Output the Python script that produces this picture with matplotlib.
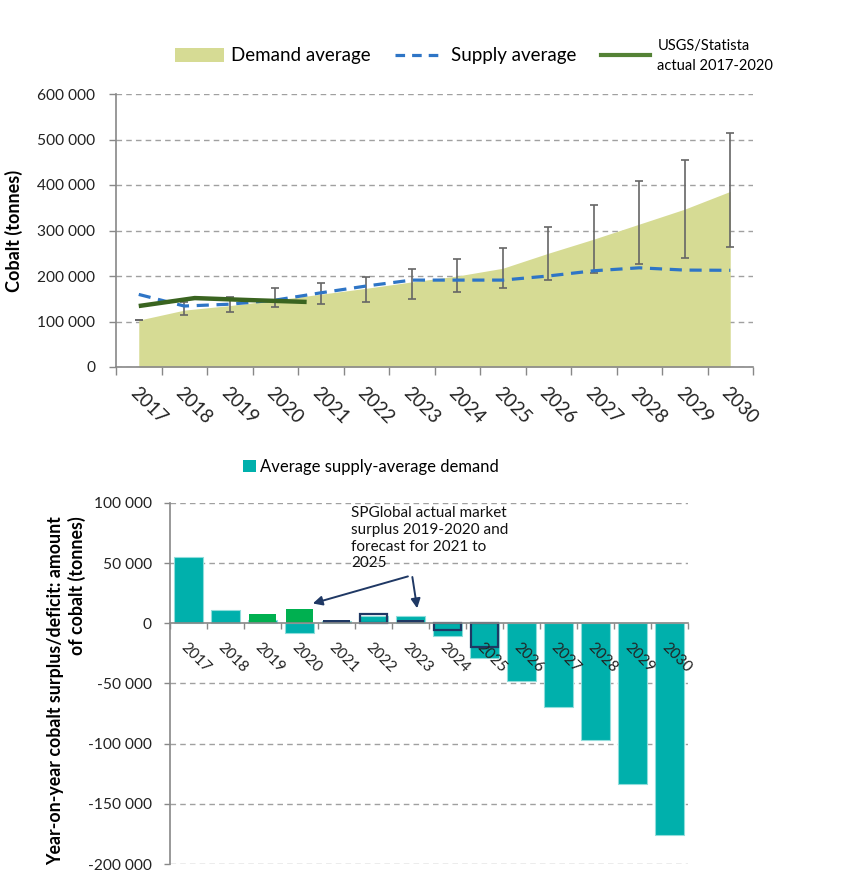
import numpy as np
import matplotlib
matplotlib.use("Agg")
import matplotlib.pyplot as plt
from matplotlib.patches import Patch
from matplotlib.lines import Line2D

plt.rcParams['font.family'] = ['Lato', 'DejaVu Sans']

# ---------------- data ----------------
years = ['2017', '2018', '2019', '2020', '2021', '2022', '2023',
         '2024', '2025', '2026', '2027', '2028', '2029', '2030']
demand_avg = [103000, 125000, 135000, 147000, 160000, 173000, 187000,
              200000, 217000, 250000, 281000, 314000, 347000, 386000]
demand_low = [103000, 114000, 121000, 132000, 138000, 143000, 150000,
              164000, 174000, 191000, 206000, 226000, 240000, 264000]
demand_high = [103000, 143000, 154000, 174000, 185000, 198000, 215000,
               237000, 262000, 308000, 357000, 408000, 455000, 515000]
supply_avg = [159500, 134000, 138000, 147000, 163000, 178000, 191000,
              191000, 191000, 200000, 211500, 218000, 213000, 212500]
usgs_years = ['2017', '2018', '2019', '2020']
usgs_actual = [134000, 151500, 147000, 143000]

balance_avg = [55500, 11100, 3000, -7800, 2000, 6500, 6300,
               -10600, -28700, -48300, -69300, -97300, -133300, -175500]
sp_years = ['2019', '2020', '2021', '2022', '2023', '2024', '2025']
sp_values = [8000, 11700, 3000, 7750, 2800, -5600, -19500]

top_yticks = [0, 100000, 200000, 300000, 400000, 500000, 600000]
bot_yticks = [-200000, -150000, -100000, -50000, 0, 50000, 100000]

# ---------------- styles ----------------
C_AREA = '#D6DB94'
C_SUPPLY = '#2E75C6'
C_USGS = '#3A6420'
C_USGS_LEG = '#548235'
C_ERR = '#666666'
C_GRID = '#A0A0A0'
C_SPINE = '#888888'
C_TEAL = '#00B0AC'
C_GREEN = '#00B050'
C_NAVY = '#1F3864'
sp_filled = {'2019': C_GREEN, '2020': C_GREEN, '2021': C_NAVY, '2023': C_NAVY}


def fmt(v):
    s = f"{abs(int(v)):,}".replace(',', ' ')
    return ('-' if v < 0 else '') + s


fig = plt.figure(figsize=(8.5, 8.83), dpi=100)

# ---------------- top chart ----------------
ax = fig.add_axes([116 / 850, 1 - 367 / 883, (753 - 116) / 850, (367 - 94) / 883])
x = np.arange(len(years))
ax.fill_between(x, 0, demand_avg, color=C_AREA, lw=0, zorder=2)
d = np.array(demand_avg)
yerr = [d - np.array(demand_low), np.array(demand_high) - d]
ax.errorbar(x, d, yerr=yerr, fmt='none', ecolor=C_ERR, elinewidth=1.2,
            capsize=3.2, capthick=1.2, zorder=3)
ax.plot(x, supply_avg, color=C_SUPPLY, lw=2.3, dashes=(3.8, 2.4), zorder=4)
usgs_stretch = 1.23  # the actual series is drawn on a slightly wider category spacing
ux = np.array([years.index(y) for y in usgs_years]) * usgs_stretch
ax.plot(ux, usgs_actual, color=C_USGS, lw=3.2, zorder=5, solid_capstyle='butt')

ax.set_xlim(-0.5, len(years) - 0.5)
ax.set_ylim(0, 600000)
ax.set_yticks(top_yticks)
ax.set_yticklabels([fmt(v) for v in top_yticks], fontsize=11.2, color='#222222')
ax.set_xticks(np.arange(-0.5, len(years), 1))
ax.set_xticklabels([])
ax.set_xticks(x, minor=True)
ax.set_xticklabels(years, minor=True, fontsize=13.5, color='#222222')
plt.setp(ax.get_xticklabels(minor=True), rotation=-45, ha='left', va='top',
         rotation_mode='anchor')
ax.tick_params(axis='x', which='major', length=6, width=1, color=C_SPINE, direction='out')
ax.tick_params(axis='x', which='minor', length=0, pad=12)
ax.tick_params(axis='y', length=5, width=1, color=C_SPINE, pad=10)
for s in ['top', 'right']:
    ax.spines[s].set_visible(False)
for s in ['left', 'bottom']:
    ax.spines[s].set_color(C_SPINE)
    ax.spines[s].set_linewidth(1.2)
ax.yaxis.grid(True, linestyle=(0, (4, 3)), color=C_GRID, lw=1)
ax.set_axisbelow(True)
ax.set_ylabel('Cobalt (tonnes)', fontsize=13, fontweight='bold', labelpad=10)

leg_handles = [Patch(facecolor=C_AREA, edgecolor='none'),
               Line2D([], [], color=C_SUPPLY, lw=2.3, dashes=(3.0, 2.2)),
               Line2D([], [], color=C_USGS_LEG, lw=3)]
leg = fig.legend(leg_handles, ['Demand average', 'Supply average',
                               'USGS/Statista\nactual 2017-2020'],
                 ncol=3, loc='center', bbox_to_anchor=(474 / 850, 1 - 56 / 883),
                 frameon=False, fontsize=13.5, handlelength=2.6, handleheight=0.8,
                 handletextpad=0.4, columnspacing=1.3)
leg.get_texts()[2].set_fontsize(10.5)
leg.get_texts()[2].set_linespacing(1.6)

# ---------------- bottom chart ----------------
ax2 = fig.add_axes([170 / 850, 1 - 864 / 883, (688 - 170) / 850, (864 - 503) / 883])
for v in bot_yticks:
    if v != 0:
        ax2.axhline(v, linestyle=(0, (4, 3)), color=C_GRID, lw=1, zorder=0.5)
ax2.bar(x, balance_avg, width=0.8, color=C_TEAL, edgecolor='#8FDDDB', lw=0.8, zorder=1.2)
for yr, v in zip(sp_years, sp_values):
    i = years.index(yr)
    if yr in sp_filled:
        ax2.bar(i, v, width=0.72, color=sp_filled[yr], lw=0, zorder=1.4)
    else:
        ax2.bar(i, v, width=0.72, facecolor='none', edgecolor=C_NAVY, lw=1.6, zorder=1.4)

ax2.set_xlim(-0.5, len(years) - 0.5)
ax2.set_ylim(-200000, 100000)
ax2.set_yticks(bot_yticks)
ax2.set_yticklabels([fmt(v) for v in bot_yticks], fontsize=11.2, color='#222222')
ax2.spines['bottom'].set_position(('data', 0))
ax2.set_xticks(np.arange(-0.5, len(years), 1))
ax2.set_xticklabels([])
ax2.set_xticks(x, minor=True)
ax2.set_xticklabels(years, minor=True, fontsize=11, color='#222222')
plt.setp(ax2.get_xticklabels(minor=True), rotation=-45, ha='left', va='top',
         rotation_mode='anchor')
ax2.tick_params(axis='x', which='major', length=4, width=1, color=C_SPINE, direction='out')
ax2.tick_params(axis='x', which='minor', length=0, pad=12)
ax2.tick_params(axis='y', length=4, width=1, color=C_SPINE, pad=9)
for s in ['top', 'right']:
    ax2.spines[s].set_visible(False)
for s in ['left', 'bottom']:
    ax2.spines[s].set_color(C_SPINE)
    ax2.spines[s].set_linewidth(1.2)
ax2.set_axisbelow(False)
ax2.set_ylabel('Year-on-year cobalt surplus/deficit: amount\nof cobalt (tonnes)',
               fontsize=12.8, fontweight='bold', multialignment='right',
               linespacing=1.25)
ax2.yaxis.set_label_coords(-0.162, 0.48)

ax2.legend([Patch(facecolor=C_TEAL, edgecolor='none')], ['Average supply-average demand'],
           loc='center left', bbox_to_anchor=(228 / 850, 1 - 467 / 883),
           bbox_transform=fig.transFigure, frameon=False, fontsize=12,
           handlelength=0.75, handleheight=0.75, handletextpad=0.3)

ax2.text(4.39, 97500, 'SPGlobal actual market\nsurplus 2019-2020 and\nforecast for 2021 to\n2025',
         fontsize=11, va='top', ha='left', color='#111111', linespacing=1.25, zorder=6)
arrow_kw = dict(arrowstyle='-|>', color=C_NAVY, lw=1.4, mutation_scale=14,
                shrinkA=0, shrinkB=0)
ax2.annotate('', xy=(3.36, 16500), xytext=(5.93, 39000), arrowprops=arrow_kw)
ax2.annotate('', xy=(6.18, 12500), xytext=(6.05, 38500), arrowprops=arrow_kw)

fig.savefig('out.png', dpi=100)
